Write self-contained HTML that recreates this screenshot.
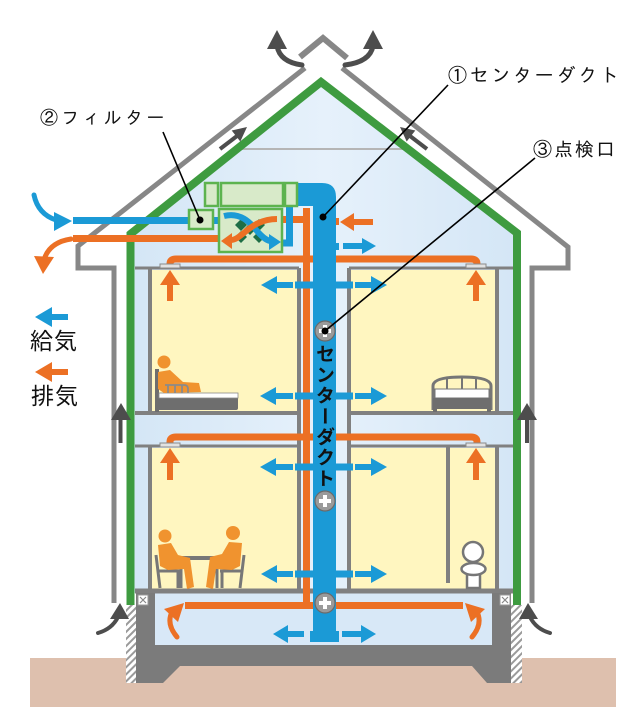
<!DOCTYPE html>
<html>
<head>
<meta charset="utf-8">
<style>
html,body{margin:0;padding:0;background:#fff;}
#wrap{position:relative;width:640px;height:724px;overflow:hidden;background:#fff;}
svg{position:absolute;left:0;top:0;}
.lbl{font-family:"Liberation Sans","IPAGothic","Noto Sans CJK JP",sans-serif;fill:#111;}
.lg{font-family:"Liberation Sans","Noto Sans CJK JP",sans-serif;fill:#111;}
#vt{position:absolute;left:314px;top:344px;width:22px;writing-mode:vertical-rl;font-family:"Noto Sans CJK JP","Liberation Sans",sans-serif;font-size:19px;line-height:22px;letter-spacing:1.7px;font-weight:bold;color:#111;}
</style>
</head>
<body>
<div id="wrap">
<svg width="640" height="724" viewBox="0 0 640 724" xmlns="http://www.w3.org/2000/svg">
<defs>
<linearGradient id="lb" x1="0" y1="0" x2="1" y2="0">
<stop offset="0" stop-color="#d4e6f6"/>
<stop offset="0.5" stop-color="#e6f1fb"/>
<stop offset="1" stop-color="#d4e6f6"/>
</linearGradient>
<pattern id="hatch" patternUnits="userSpaceOnUse" width="5" height="5" patternTransform="rotate(45)">
<rect width="5" height="5" fill="#fff"/>
<rect width="2" height="5" fill="#9a9a9a"/>
</pattern>
</defs>

<rect x="30" y="658" width="586" height="49" fill="#dec0ae"/>

<polygon points="321,82 131,234 131,593 517,593 517,234" fill="url(#lb)"/>
<rect x="150" y="593" width="345" height="52" fill="#d8e8f7"/>

<rect x="152" y="270" width="145" height="141" fill="#fff6c0"/>
<rect x="351" y="270" width="144" height="141" fill="#fff6c0"/>
<rect x="152" y="448" width="145" height="141" fill="#fff6c0"/>
<rect x="351" y="448" width="144" height="141" fill="#fff6c0"/>

<line x1="238" y1="149" x2="404" y2="149" stroke="#b5b5b5" stroke-width="2"/>

<g stroke="#808080" fill="none">
<line x1="135" y1="268" x2="299" y2="268" stroke-width="3"/>
<line x1="349" y1="268" x2="513" y2="268" stroke-width="3"/>
<line x1="135" y1="413" x2="299" y2="413" stroke-width="4"/>
<line x1="349" y1="413" x2="513" y2="413" stroke-width="4"/>
<line x1="135" y1="446" x2="299" y2="446" stroke-width="3"/>
<line x1="349" y1="446" x2="513" y2="446" stroke-width="3"/>
<line x1="135" y1="591" x2="513" y2="591" stroke-width="5"/>
<line x1="150" y1="268" x2="150" y2="413" stroke-width="4"/>
<line x1="150" y1="446" x2="150" y2="591" stroke-width="4"/>
<line x1="299" y1="268" x2="299" y2="591" stroke-width="4"/>
<line x1="349" y1="268" x2="349" y2="591" stroke-width="4"/>
<line x1="497" y1="268" x2="497" y2="413" stroke-width="4"/>
<line x1="497" y1="446" x2="497" y2="591" stroke-width="4"/>
<line x1="448" y1="446" x2="448" y2="583" stroke-width="4"/>
</g>

<polygon points="136,593 155,593 155,645 492,645 492,593 511,593 511,683 487,683 472,666 180,666 163,683 136,683" fill="#7b7b7b"/>
<rect x="126" y="605" width="10" height="78" fill="url(#hatch)"/>
<rect x="511" y="605" width="11" height="78" fill="url(#hatch)"/>
<g>
<rect x="138" y="595" width="10" height="10" fill="#fff" stroke="#999" stroke-width="1"/>
<path d="M140,597 L146,603 M146,597 L140,603" stroke="#888" stroke-width="1.2"/>
<rect x="500" y="595" width="10" height="10" fill="#fff" stroke="#999" stroke-width="1"/>
<path d="M502,597 L508,603 M508,597 L502,603" stroke="#888" stroke-width="1.2"/>
</g>

<polyline points="130.5,605 130.5,234 321,82 517,233 517,605" fill="none" stroke="#3e9b40" stroke-width="8" stroke-linejoin="miter"/>

<g fill="none" stroke="#878787" stroke-width="5" stroke-linejoin="miter">
<polyline points="305,68 78,246 78,268 114,268 114,603"/>
<polyline points="342,68 568,247 568,268 532,268 532,603"/>
<polyline points="300,57 323,38 347,58" stroke-width="6"/>
</g>

<g fill="none" stroke="#ec7024" stroke-width="7">
<path d="M170,266 V264 Q170,259 176,259 H471 Q477,259 477,264 V266"/>
<path d="M170,444 V442 Q170,437 176,437 H471 Q477,437 477,442 V444"/>
<path d="M281,219.5 H306.5 V605.5"/>
<line x1="306.5" y1="208" x2="306.5" y2="220"/>
<line x1="185" y1="605.5" x2="463" y2="605.5"/>
</g>
<g fill="#e2e2e2" stroke="#8a8a8a" stroke-width="1">
<rect x="160" y="264" width="20" height="4"/>
<rect x="466" y="264" width="20" height="4"/>
<rect x="160" y="443" width="20" height="4"/>
<rect x="466" y="443" width="20" height="4"/>
</g>
<g fill="#ec7024">
<rect x="167" y="283" width="6" height="18"/><polygon points="170,270 160,285 180,285"/>
<rect x="473" y="283" width="6" height="18"/><polygon points="476,270 466,285 486,285"/>
<rect x="167" y="461" width="6" height="19"/><polygon points="170,448 160,463 180,463"/>
<rect x="473" y="461" width="6" height="19"/><polygon points="476,448 466,463 486,463"/>
<rect x="352" y="219" width="21" height="6"/><polygon points="340,222 354,213 354,231"/>
<rect x="335" y="218" width="4" height="7"/>
</g>
<g fill="none" stroke="#ec7024" stroke-width="5" stroke-linecap="round">
<path d="M177,637 Q166,624 172,612"/>
<path d="M472,637 Q483,624 477,612"/>
</g>
<g fill="#ec7024">
<polygon points="184,603 164,609 178,622"/>
<polygon points="465,603 485,609 471,622"/>
</g>

<g fill="#1b9ad6">
<path d="M297,183 H322 Q336,183 336,197 V642 H313 V206 H297 Z"/>
<rect x="310" y="631" width="29" height="11"/>
</g>
<g fill="none" stroke="#1b9ad6" stroke-width="7">
<path d="M281,243 H289.5 V204"/>
</g>
<g fill="#1b9ad6">
<rect x="295" y="281.5" width="18" height="7"/><rect x="335" y="281.5" width="18" height="7"/>
<rect x="276" y="282" width="17" height="6"/><polygon points="261,285 277,276 277,294"/>
<rect x="355" y="282" width="17" height="6"/><polygon points="387,285 371,276 371,294"/>
<rect x="295" y="392.5" width="18" height="7"/><rect x="335" y="392.5" width="18" height="7"/>
<rect x="275" y="393" width="18" height="6"/><polygon points="260,396 276,387 276,405"/>
<rect x="355" y="393" width="17" height="6"/><polygon points="387,396 371,387 371,405"/>
<rect x="295" y="463.5" width="18" height="7"/><rect x="335" y="463.5" width="18" height="7"/>
<rect x="275" y="464" width="18" height="6"/><polygon points="260,467 276,458 276,476"/>
<rect x="355" y="464" width="17" height="6"/><polygon points="387,467 371,458 371,476"/>
<rect x="295" y="570.5" width="18" height="7"/><rect x="335" y="570.5" width="18" height="7"/>
<rect x="276" y="571" width="17" height="6"/><polygon points="261,574 277,565 277,583"/>
<rect x="355" y="571" width="17" height="6"/><polygon points="387,574 371,565 371,583"/>
<rect x="287" y="631" width="17" height="6"/><polygon points="273,634 288,625 288,643"/>
<rect x="342" y="631" width="20" height="6"/><polygon points="376,634 361,625 361,643"/>
<rect x="335" y="243" width="4" height="7"/>
<rect x="343" y="243" width="21" height="6"/><polygon points="376,246 362,238 362,254"/>
</g>

<line x1="73" y1="220.5" x2="192" y2="220.5" stroke="#1b9ad6" stroke-width="7"/>
<line x1="211" y1="220.5" x2="222" y2="220.5" stroke="#1b9ad6" stroke-width="7"/>
<line x1="73" y1="238.5" x2="220" y2="238.5" stroke="#ec7024" stroke-width="7"/>
<path d="M34,195 Q38,214 56,220" fill="none" stroke="#1b9ad6" stroke-width="5" stroke-linecap="round"/>
<polygon points="72,221 54,212 54,231" fill="#1b9ad6"/>
<path d="M71,239 Q51,242 45,257" fill="none" stroke="#ec7024" stroke-width="5" stroke-linecap="round"/>
<polygon points="43,274 34,256 54,257" fill="#ec7024"/>

<g fill="#d8eac9" stroke="#5db34f" stroke-width="2.5">
<rect x="205" y="183" width="13" height="23"/>
<rect x="221" y="183" width="62" height="23"/>
<rect x="285" y="183" width="12" height="23"/>
<rect x="219" y="209" width="63" height="43"/>
<rect x="189" y="210" width="24" height="19"/>
</g>
<g fill="#1e6e46">
<polygon points="250,223 256,229 250,235 244,229"/>
<polygon points="241,219 247,225 241,231 235,225"/>
<polygon points="259,219 265,225 259,231 253,225"/>
<polygon points="241,231 247,237 241,243 235,237"/>
<polygon points="259,231 265,237 259,243 253,237"/>
</g>
<path d="M224,216 C240,212 250,222 257,231 C263,238 268,241 271,241" fill="none" stroke="#1b9ad6" stroke-width="6"/>
<polygon points="281,242 269,234 269,250" fill="#1b9ad6"/>
<path d="M277,219 C262,219 252,226 245,232 C239,237 235,240 231,240" fill="none" stroke="#ec7024" stroke-width="6"/>
<polygon points="221,241 232,233 232,249" fill="#ec7024"/>

<g>
<circle cx="325" cy="331" r="10" fill="#9a9a9a" stroke="#6a6a6a" stroke-width="1.2"/>
<path d="M319,331 H331 M325,325 V337" stroke="#fff" stroke-width="4"/>
<circle cx="325" cy="501" r="10" fill="#9a9a9a" stroke="#6a6a6a" stroke-width="1.2"/>
<path d="M319,501 H331 M325,495 V507" stroke="#fff" stroke-width="4"/>
<circle cx="325" cy="603" r="10" fill="#9a9a9a" stroke="#6a6a6a" stroke-width="1.2"/>
<path d="M319,603 H331 M325,597 V609" stroke="#fff" stroke-width="4"/>
</g>

<g fill="none" stroke="#4d4d4d" stroke-width="5" stroke-linecap="round">
<path d="M302,65 Q280,62 277,46"/>
<path d="M345,65 Q370,62 373,46"/>
<path d="M98,633 Q112,629 118,617" stroke-width="4"/>
<path d="M550,633 Q536,629 530,617" stroke-width="4"/>
</g>
<g fill="#4d4d4d">
<polygon points="277,30 267,49 287,49"/>
<polygon points="373,30 363,49 383,49"/>
<polygon points="120,603 110,619 129,619"/>
<polygon points="528,603 519,619 538,619"/>
<polygon points="247,127 240.3,141.5 231.7,130.5"/>
<polygon points="400,127 406.7,141.5 415.3,130.5"/>
<rect x="118.5" y="418" width="4" height="25"/><polygon points="121,403 111,420 131,420"/>
<rect x="525" y="418" width="4" height="25"/><polygon points="527,403 517,420 537,420"/>
</g>
<g stroke="#4d4d4d" stroke-width="4">
<line x1="220" y1="149" x2="237" y2="136"/>
<line x1="427" y1="149" x2="410" y2="136"/>
</g>

<g>
<rect x="155" y="369" width="4" height="43" fill="#6e6e6e"/>
<rect x="155" y="397" width="83" height="13" rx="2" fill="#6e6e6e"/>
<rect x="159" y="393" width="79" height="5" fill="#fff" stroke="#8a8a8a" stroke-width="0.8"/>
<circle cx="164" cy="362" r="6.5" fill="#f0932f"/>
<polygon points="158,372 170,370 183,382 199,383 201,392 164,393 158,389" fill="#f0932f"/>
<path d="M165,385 H184 Q188,385 188,389 V393 M168,385 V393 M175,385 V393 M182,385 V393" fill="none" stroke="#8a8a8a" stroke-width="1.8"/>
</g>
<g fill="none" stroke="#767676" stroke-width="3">
<path d="M433,410 V386 Q433,377 462,377 Q491,377 491,386 V410"/>
<path d="M447,378 V389 M462,377 V389 M476,378 V389" stroke-width="2"/>
</g>
<rect x="435" y="389" width="54" height="9" fill="#fff" stroke="#767676" stroke-width="1"/>
<rect x="433" y="398" width="58" height="11" fill="#6e6e6e"/>
<rect x="433" y="408" width="4" height="4" fill="#6e6e6e"/><rect x="487" y="408" width="4" height="4" fill="#6e6e6e"/>
<g fill="none" stroke="#777" stroke-width="3">
<path d="M156,555 L160,588 M158,571 H180 M178,571 V588"/>
<path d="M244,555 L240,588 M220,571 H242 M222,571 V588"/>
<path d="M181,560 V588 M217,560 V588"/>
</g>
<rect x="174" y="556" width="49" height="4" fill="#777"/>
<g fill="#f0932f">
<circle cx="165" cy="536" r="6.5"/>
<polygon points="158,545 171,543 178,555 190,558 194,587 187,589 184,569 168,570 160,566"/>
<circle cx="233" cy="533" r="7"/>
<polygon points="242,543 229,542 222,554 210,557 206,587 213,589 216,569 232,570 240,566"/>
</g>
<g fill="#fff" stroke="#767676" stroke-width="2.5">
<rect x="467" y="573" width="13" height="15"/>
<ellipse cx="473.5" cy="569" rx="12" ry="6"/>
<circle cx="473" cy="552" r="10"/>
</g>

<g stroke="#000" stroke-width="1.6">
<line x1="163" y1="132" x2="200" y2="220"/>
<line x1="448" y1="85" x2="323" y2="217"/>
<line x1="535" y1="158" x2="325" y2="331"/>
</g>
<circle cx="200" cy="220" r="3.5" fill="#000"/>
<circle cx="323" cy="217" r="3.5" fill="#000"/>
<circle cx="325" cy="331" r="3.5" fill="#000"/>

<text class="lbl" x="40" y="124" font-size="18" letter-spacing="3.3">②フィルター</text>
<text class="lbl" x="448" y="82" font-size="19" letter-spacing="2.7">①センターダクト</text>
<text class="lbl" x="533" y="156" font-size="19" letter-spacing="2">③点検口</text>

<rect x="50" y="314" width="18" height="6" fill="#1b9ad6"/>
<polygon points="35,317 52,307 52,327" fill="#1b9ad6"/>
<text class="lg" x="30" y="349" font-size="23" letter-spacing="1">給気</text>
<rect x="50" y="369" width="18" height="6" fill="#ec7024"/>
<polygon points="35,372 52,362 52,382" fill="#ec7024"/>
<text class="lg" x="31" y="404" font-size="23" letter-spacing="1">排気</text>
</svg>
<div id="vt">センターダクト</div>
</div>
</body>
</html>
